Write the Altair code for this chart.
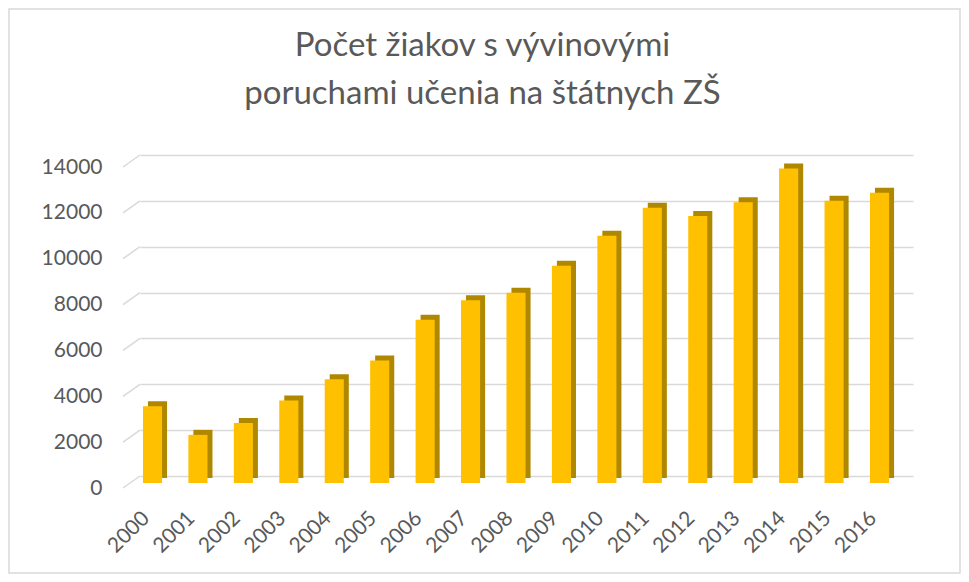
import altair as alt
import pandas as pd

years = ["2000", "2001", "2002", "2003", "2004", "2005", "2006", "2007", "2008",
         "2009", "2010", "2011", "2012", "2013", "2014", "2015", "2016"]
values = [3350, 2100, 2620, 3600, 4530, 5340, 7120, 7970, 8300,
          9480, 10780, 12010, 11650, 12240, 13720, 12310, 12660]
ticks = [0, 2000, 4000, 6000, 8000, 10000, 12000, 14000]
title_lines = ["Počet žiakov s vývinovými", "poruchami učenia na štátnych ZŠ"]

FONT = "Lato"
GREY = "#595959"

df = pd.DataFrame({"year": years, "value": values, "zero": [0] * len(years)})
tdf = pd.DataFrame({"t": ticks})

xs = alt.Scale(domain=years, paddingInner=0.58, paddingOuter=0.296, align=0.11)
ys = alt.Scale(domain=[0, 14000], nice=False)

x_enc = alt.X("year:N", scale=xs, sort=years,
              axis=alt.Axis(title=None, labelAngle=-45, labelFont=FONT, labelFontSize=21,
                            labelColor=GREY, labelPadding=31, labelOffset=-14, ticks=False,
                            domain=False, grid=False))

base = alt.Chart(df)

shadow = base.mark_bar(color="#B08800", xOffset=5, yOffset=2, y2Offset=2).encode(
    x=x_enc,
    y=alt.Y("value:Q", scale=ys,
            axis=alt.Axis(title=None, values=ticks, format="d", labelFont=FONT,
                          labelFontSize=21, labelColor=GREY, labelPadding=38, labelOffset=12,
                          ticks=False, domain=False, grid=True, gridColor="#D9D9D9",
                          gridWidth=1.5)),
    y2="zero:Q",
)

front = base.mark_bar(color="#FFC000", yOffset=7, y2Offset=7).encode(
    x=alt.X("year:N", scale=xs, sort=years),
    y=alt.Y("value:Q", scale=ys),
    y2="zero:Q",
)

slant = alt.Chart(tdf).mark_rule(color="#D9D9D9", strokeWidth=1.5, yOffset=12, y2Offset=0).encode(
    x=alt.value(-17), x2=alt.value(0),
    y=alt.Y("t:Q", scale=ys), y2="t:Q",
)

border = alt.Chart(pd.DataFrame({"a": [0]})).mark_rect(
    fill=None, stroke="#D9D9D9", strokeWidth=1.5).encode(
    x=alt.value(-131), x2=alt.value(820), y=alt.value(-146), y2=alt.value(418),
)

chart = alt.layer(border, slant, shadow, front).properties(
    width=773, height=321,
    title=alt.TitleParams(title_lines, font=FONT, fontSize=33, fontWeight="normal",
                          color=GREY, lineHeight=48, dx=-44, offset=-103, anchor="middle"),
    autosize=alt.AutoSizeParams(type="none"),
    padding={"left": 132, "top": 147, "right": 48, "bottom": 98},
).configure_view(stroke=None)

chart.save("out.html", embed_options={"renderer": "svg", "actions": False})
